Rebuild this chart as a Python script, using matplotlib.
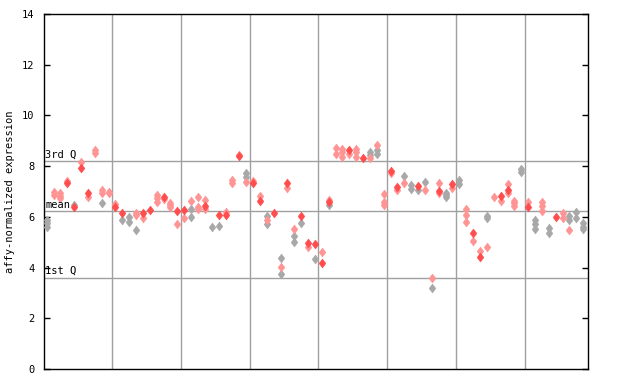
import matplotlib

matplotlib.use("Agg")
import matplotlib.pyplot as plt
from matplotlib.path import Path

# expression values per sample (column)
values = [
    [5.88, 5.74, 5.61], [6.99, 6.86], [6.95, 6.82, 6.73], [7.40, 7.32], [6.47, 6.40],
    [8.15, 7.94], [6.93, 6.80], [8.64, 8.51], [7.06, 6.93, 6.53], [6.99, 6.93],
    [6.50, 6.40], [6.17, 5.88], [5.98, 5.81], [6.14, 6.07, 5.48], [6.14, 5.94],
    [6.27], [6.86, 6.73, 6.60], [6.80, 6.70], [6.56, 6.47, 6.38], [6.24, 5.71],
    [6.27, 5.94], [6.63, 6.30, 5.98], [6.77, 6.38, 6.30], [6.66, 6.43, 6.30], [5.59],
    [6.07, 5.63], [6.20, 6.07], [7.45, 7.32], [8.45, 8.40], [7.72, 7.58, 7.36],
    [7.43, 7.32], [6.82, 6.64], [6.03, 5.88, 5.72], [6.17], [4.36, 4.03, 3.73],
    [7.35, 7.13], [5.51, 5.25, 5.00], [6.03, 5.75], [4.96, 4.80], [4.92, 4.33],
    [4.60, 4.19], [6.66, 6.60, 6.47], [8.73, 8.49], [8.66, 8.57, 8.37], [8.65, 8.48],
    [8.66, 8.57, 8.37], [8.33], [8.57, 8.44, 8.33], [8.83, 8.64, 8.47], [6.89, 6.60, 6.47],
    [7.82, 7.72], [7.19, 7.06], [7.61, 7.32], [7.26, 7.09], [7.20, 7.06],
    [7.37, 7.06], [3.58, 3.18], [7.32, 7.03, 6.93], [6.95, 6.86, 6.77], [7.31, 7.13],
    [7.45, 7.30], [6.30, 6.07, 5.78], [5.38, 5.03], [4.65, 4.43], [6.03, 5.94, 4.80],
    [6.80], [6.84, 6.64], [7.30, 7.06, 6.95], [6.63, 6.53, 6.43], [7.88, 7.78],
    [6.60, 6.40], [5.88, 5.72, 5.53], [6.60, 6.43, 6.24], [5.55, 5.38], [6.01],
    [6.14, 5.94], [6.03, 5.88, 5.48], [6.20, 5.94], [5.75, 5.61, 5.51],
]
# r = solid red, p = hatched red, g = gray
kinds = [
    "ggg", "pp", "ppp", "pr", "gr", "pr", "rp", "pp", "ppg", "pp",
    "pr", "rg", "gg", "ppg", "rp", "r", "ppp", "rp", "ppp", "rp",
    "rp", "pgg", "ppp", "prp", "g", "rg", "pr", "pp", "pr", "ggp",
    "pr", "pr", "gpg", "r", "gpg", "rp", "pgg", "rg", "rp", "rg",
    "pr", "prg", "pp", "ppp", "rp", "ppp", "r", "ggp", "pgg", "ppp",
    "rp", "rp", "gp", "gg", "rg", "gp", "pg", "prp", "ggg", "rp",
    "gg", "ppp", "rp", "pr", "ggp", "p", "rp", "prp", "ppp", "gg",
    "pr", "ggg", "ppp", "gg", "r", "pp", "ggp", "gg", "ggg",
]
group_edges = [9.5, 19.5, 29.5, 39.5, 49.5, 59.5, 69.5]
q1, mean, q3 = 3.60, 6.22, 8.21
yticks = [0, 2, 4, 6, 8, 10, 12, 14]

colors = {"r": "#ff4c4c", "p": "#ff9494", "g": "#a8a8a8"}
diamond = Path([(0, 1), (0.75, 0), (0, -1), (-0.75, 0), (0, 1)],
               [Path.MOVETO, Path.LINETO, Path.LINETO, Path.LINETO, Path.CLOSEPOLY])

plt.rcParams["font.family"] = "DejaVu Sans Mono"

fig = plt.figure(figsize=(6.4, 3.84), dpi=100)
ax = fig.add_axes([44 / 640, 1 - 369 / 384, 544 / 640, 355 / 384])

for x in group_edges:
    ax.axvline(x, color="#a0a0a0", linewidth=1, zorder=1)
for y in (q1, mean, q3):
    ax.axhline(y, color="#a0a0a0", linewidth=1, zorder=1)

for kind in ("g", "p", "r"):
    xs, ys = [], []
    for i, (vals, ks) in enumerate(zip(values, kinds)):
        for v, k in zip(vals, ks):
            if k == kind:
                xs.append(i)
                ys.append(v)
    ax.plot(xs, ys, linestyle="none", marker=diamond, markersize=6.4,
            markerfacecolor=colors[kind], markeredgecolor=colors[kind],
            markeredgewidth=0.4, zorder=3)

for y, label in ((q3, "3rd Q"), (mean, "mean"), (q1, "1st Q")):
    ax.text(0.002, y + 0.06, label, fontsize=7.5, ha="left", va="bottom",
            transform=ax.get_yaxis_transform(), zorder=4)

ax.set_xlim(-0.39, 78.7)
ax.set_ylim(0, 14)
ax.set_yticks(yticks)
ax.set_yticklabels([str(t) for t in yticks], fontsize=7.5)
ax.set_xticks([])
ax.tick_params(axis="y", direction="in", length=4, width=1, right=True, pad=7)
for spine in ax.spines.values():
    spine.set_linewidth(1)
ax.set_ylabel("affy-normalized expression", fontsize=7.5, labelpad=5)

fig.savefig("out.png", dpi=100)
